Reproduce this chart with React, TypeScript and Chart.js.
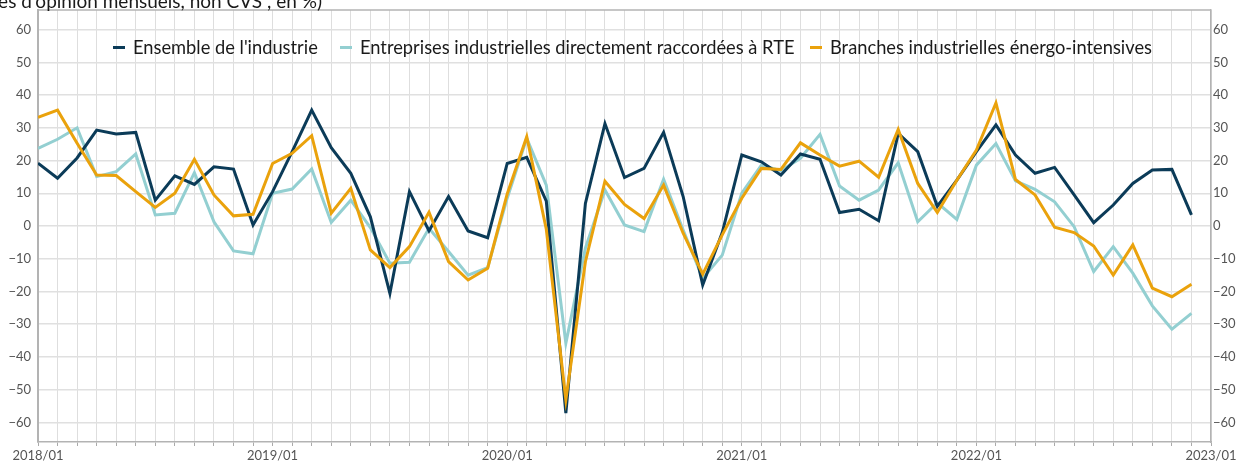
import React, { useEffect, useRef } from "react";
import { Chart, registerables } from "chart.js";

Chart.register(...registerables);

const xTickLabels = ["2018/01", "2019/01", "2020/01", "2021/01", "2022/01", "2023/01"];
const seriesNames = [
  "Ensemble de l'industrie",
  "Entreprises industrielles directement raccordées à RTE",
  "Branches industrielles énergo-intensives",
];
const yTicks = [-60, -50, -40, -30, -20, -10, 0, 10, 20, 30, 40, 50, 60];

// monthly values 2018/01 .. 2022/12
const ensemble = [
  19.2, 14.6, 20.8, 29.3, 28.1, 28.6, 7.9, 15.3, 12.7, 18.1,
  17.4, 0.3, 10.5, 22.7, 35.4, 23.9, 16.1, 2.8, -20.6, 10.5,
  -1.5, 9.0, -1.5, -3.6, 19.1, 21.0, 7.6, -57.2, 6.9, 31.3,
  14.8, 17.6, 28.6, 9.0, -18.0, -2.0, 21.7, 19.6, 15.6, 22.0,
  20.4, 4.1, 5.1, 1.6, 28.3, 22.7, 6.0, 14.0, 22.7, 30.9,
  21.7, 16.1, 17.9, 9.5, 1.0, 6.4, 13.0, 17.1, 17.3, 3.4,
];
const rte = [
  23.7, 26.5, 30.0, 15.1, 16.6, 22.0, 3.4, 3.9, 16.3, 1.3,
  -7.6, -8.5, 10.0, 11.3, 17.4, 1.1, 7.9, -0.5, -11.4, -11.1,
  -0.7, -7.8, -15.0, -12.7, 8.5, 26.8, 12.5, -35.8, -6.8, 11.0,
  0.3, -1.7, 14.3, -1.2, -16.0, -8.9, 10.0, 18.6, 16.9, 20.7,
  28.0, 12.2, 7.9, 11.0, 19.3, 1.3, 7.1, 2.0, 18.6, 25.2,
  13.8, 11.2, 7.4, -0.2, -13.9, -6.3, -14.4, -24.4, -31.5, -26.7,
];
const energo = [
  33.2, 35.4, 25.3, 15.6, 15.4, 10.5, 5.7, 10.0, 20.4, 9.5,
  3.1, 3.6, 19.1, 22.2, 27.6, 3.9, 11.5, -7.3, -12.7, -6.3,
  4.2, -10.9, -16.5, -12.9, 9.8, 27.3, -1.0, -53.1, -10.9, 13.7,
  6.6, 2.3, 12.5, -2.2, -14.7, -2.7, 8.5, 17.6, 17.3, 25.4,
  21.7, 18.3, 19.8, 14.9, 29.5, 13.0, 4.1, 14.0, 23.2, 37.6,
  14.2, 9.5, -0.4, -2.0, -6.1, -15.0, -5.8, -19.0, -21.6, -17.8,
];

const colors = ["#0b3b58", "#93cfd1", "#eaa20c"];
const FONT = "Lato, 'Open Sans', sans-serif";

const frame = {
  id: "frame",
  afterDraw(chart: any) {
    const { ctx, chartArea } = chart;
    ctx.save();
    ctx.strokeStyle = "#b3b3b3";
    ctx.lineWidth = 1.5;
    ctx.beginPath();
    ctx.moveTo(chartArea.left, chartArea.top);
    ctx.lineTo(chartArea.right, chartArea.top);
    ctx.stroke();
    ctx.restore();
  },
};

const noPad = (s: any) => {
  s.paddingTop = 0;
  s.paddingBottom = 0;
  s.paddingLeft = 0;
  s.paddingRight = 0;
};

export default function App() {
  const ref = useRef<HTMLCanvasElement | null>(null);

  useEffect(() => {
    document.body.style.margin = "0";
    const toPts = (arr: number[]) => arr.map((v, i) => ({ x: i, y: v }));
    const mk = (i: number, arr: number[], order: number) => ({
      label: seriesNames[i],
      data: toPts(arr),
      borderColor: colors[i],
      backgroundColor: colors[i],
      borderWidth: 3,
      pointRadius: 0,
      tension: 0,
      order,
    });
    const tickFont = { family: FONT, size: 13 };
    const chart = new Chart(ref.current as HTMLCanvasElement, {
      type: "line",
      data: {
        datasets: [mk(0, ensemble, 1), mk(1, rte, 2), mk(2, energo, 0)],
      },
      options: {
        animation: false,
        responsive: false,
        maintainAspectRatio: false,
        layout: { padding: { top: 10, left: 0, right: 0, bottom: 0 } },
        plugins: { legend: { display: false }, tooltip: { enabled: false } },
        scales: {
          x: {
            type: "linear",
            min: 0,
            max: 60,
            afterFit: (s: any) => {
              s.height = 19;
              noPad(s);
            },
            afterBuildTicks: (s: any) => {
              s.ticks = Array.from({ length: 61 }, (_, i) => ({ value: i }));
            },
            ticks: {
              autoSkip: false,
              maxRotation: 0,
              padding: 2,
              color: "#555",
              font: tickFont,
              callback: (v: any) => (Number(v) % 12 === 0 ? xTickLabels[Number(v) / 12] : ""),
            },
            grid: { color: "#dedede", lineWidth: 1, tickLength: 4, tickColor: "#aaa" },
            border: { color: "#b3b3b3", width: 1.5 },
          },
          y: {
            position: "left",
            min: -66,
            max: 66,
            afterFit: (s: any) => {
              s.width = 38;
              noPad(s);
            },
            afterBuildTicks: (s: any) => {
              s.ticks = yTicks.map((v) => ({ value: v }));
            },
            ticks: {
              padding: 7,
              color: "#555",
              font: tickFont,
              callback: (v: any) => String(v).replace("-", "\u2212"),
            },
            grid: { color: "#e0e0e0", lineWidth: 1.5, drawTicks: false },
            border: { color: "#b3b3b3", width: 2 },
          },
          y2: {
            position: "right",
            min: -66,
            max: 66,
            afterFit: (s: any) => {
              s.width = 31;
              noPad(s);
            },
            afterBuildTicks: (s: any) => {
              s.ticks = yTicks.map((v) => ({ value: v }));
            },
            ticks: {
              padding: 2,
              color: "#555",
              font: tickFont,
              callback: (v: any) => String(v).replace("-", "\u2212"),
            },
            grid: { drawOnChartArea: false, drawTicks: false },
            border: { color: "#b3b3b3", width: 1.5 },
          },
        },
      },
      plugins: [frame],
    } as any);
    return () => chart.destroy();
  }, []);

  const legendLeft = [113, 340, 810];

  return (
    <div style={{ position: "fixed", left: 0, top: 0, width: 1242, height: 461, overflow: "hidden", background: "#fff" }}>
      <canvas ref={ref} width={1242} height={461} style={{ display: "block", width: 1242, height: 461 }} />
      <div
        style={{
          position: "absolute",
          right: 1242 - 322,
          top: -9,
          fontFamily: FONT,
          fontSize: 19,
          lineHeight: "19px",
          color: "#1a1a1a",
          whiteSpace: "nowrap",
        }}
      >
        (Soldes d'opinion mensuels, non CVS , en %)
      </div>
      {seriesNames.map((name, i) => (
        <div
          key={name}
          style={{
            position: "absolute",
            left: legendLeft[i],
            top: 36,
            display: "flex",
            alignItems: "center",
            fontFamily: FONT,
            fontSize: 18.3,
            lineHeight: "22px",
            color: "#1a1a1a",
            whiteSpace: "nowrap",
          }}
        >
          <span style={{ display: "inline-block", width: 12, height: 3, background: colors[i], marginRight: 8 }} />
          <span>{name}</span>
        </div>
      ))}
    </div>
  );
}
